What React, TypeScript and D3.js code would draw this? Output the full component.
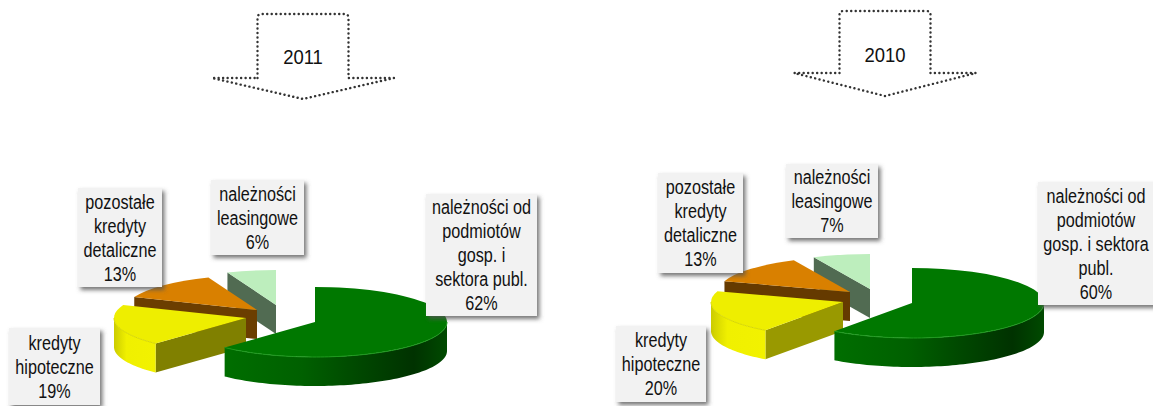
import React from 'react';
import * as d3 from 'd3';

const years = ['2011', '2010'];
const values2011 = [62, 19, 13, 6];
const values2010 = [60, 20, 13, 7];
const labels2011 = [
  ['należności od', 'podmiotów', 'gosp. i', 'sektora publ.', '62%'],
  ['kredyty', 'hipoteczne', '19%'],
  ['pozostałe', 'kredyty', 'detaliczne', '13%'],
  ['należności', 'leasingowe', '6%'],
];
const labels2010 = [
  ['należności od', 'podmiotów', 'gosp. i sektora', 'publ.', '60%'],
  ['kredyty', 'hipoteczne', '20%'],
  ['pozostałe', 'kredyty', 'detaliczne', '13%'],
  ['należności', 'leasingowe', '7%'],
];

const FONT = '"Liberation Sans", Arial, sans-serif';
const NARROW = 0.81; // the reference face is a narrow grotesque, squeeze Liberation Sans to match
const rx = 132;
const ry = 35;
const depth = 29;

const topColors = ['#007800', '#eeee00', '#d98000', '#bdeebd'];
const wallFills = ['url(#wallGreen)', 'url(#wallYellow)', '#6b3e00', '#516b52'];
const edgeColors = ['#1f9a1f', '#d8d800', '#6b3e00', '#516b52'];

// slice apexes (exploded) and label boxes, by slice index
const layout2011 = {
  arrow: { cx: 303, top: 14, shoulder: 78, tip: 99, textY: 64 },
  apex: [[315, 322], [246, 318], [257, 310], [276, 305]],
  boxes: [[426, 194, 111, 122], [9, 328, 91, 77], [78, 188, 84, 99], [211, 180, 93, 75]],
  cut: ['#005000', '#808000', '#6b3e00', '#516b52'],
};
const layout2010 = {
  arrow: { cx: 885, top: 11, shoulder: 73, tip: 96, textY: 62 },
  apex: [[912, 303], [843, 302], [850, 292], [870, 289]],
  boxes: [[1038, 182, 118, 123], [616, 326, 90, 76], [658, 173, 85, 100], [786, 164, 92, 74]],
  cut: ['#005000', '#999900', '#653a00', '#516b52'],
};

const pie = d3.pie<number>().sort(null).startAngle(0).endAngle(2 * Math.PI);
const arc = d3.arc<d3.PieArcDatum<number>>().innerRadius(0).outerRadius(rx);
const line = d3.line();

// d3 angle: 0 at 12 o'clock, clockwise
const project = (a: number, cx: number, cy: number): [number, number] => [
  cx + rx * Math.sin(a),
  cy - ry * Math.cos(a),
];

function wallPath(start: number, end: number, cx: number, cy: number) {
  const a0 = Math.max(start, Math.PI / 2);
  const a1 = Math.min(end, (3 * Math.PI) / 2);
  if (a1 <= a0) return null;
  const angles = d3.range(a0, a1, 0.03).concat(a1);
  const upper = angles.map((a) => project(a, cx, cy));
  const lower = upper.map(([x, y]) => [x, y + depth] as [number, number]).reverse();
  return { wall: line([...upper, ...lower]) + 'Z', edge: line(upper) };
}

function Pie3D({ values, apex, cut }: { values: number[]; apex: number[][]; cut: string[] }) {
  const slices = pie(values);
  // back slices first, the big green one last
  const order = d3.range(slices.length).reverse();
  return (
    <g>
      {order.map((i) => {
        const s = slices[i];
        const [cx, cy] = apex[i];
        const w = wallPath(s.startAngle, s.endAngle, cx, cy);
        const [ox, oy] = project(s.startAngle, cx, cy);
        return (
          <g key={i}>
            {i > 0 && (
              <path
                d={line([[cx, cy], [ox, oy], [ox, oy + depth], [cx, cy + depth]]) + 'Z'}
                fill={cut[i]}
              />
            )}
            {w && <path d={w.wall} fill={wallFills[i]} />}
            <path
              d={arc(s) as string}
              transform={`translate(${cx},${cy}) scale(1,${ry / rx})`}
              fill={topColors[i]}
            />
            {w && <path d={w.edge as string} fill="none" stroke={edgeColors[i]} strokeWidth={1} />}
          </g>
        );
      })}
    </g>
  );
}

function Arrow({ year, a }: { year: string; a: typeof layout2011.arrow }) {
  const p = d3.path();
  const hw = 45.5;
  const wing = 91;
  p.moveTo(a.cx - hw, a.shoulder);
  p.lineTo(a.cx - hw, a.top + 4);
  p.quadraticCurveTo(a.cx - hw, a.top, a.cx - hw + 4, a.top);
  p.lineTo(a.cx + hw - 4, a.top);
  p.quadraticCurveTo(a.cx + hw, a.top, a.cx + hw, a.top + 4);
  p.lineTo(a.cx + hw, a.shoulder);
  p.lineTo(a.cx + wing, a.shoulder);
  p.lineTo(a.cx, a.tip);
  p.lineTo(a.cx - wing, a.shoulder);
  p.closePath();
  return (
    <g>
      <path
        d={p.toString()}
        fill="none"
        stroke="#333"
        strokeWidth={2.4}
        strokeLinecap="round"
        strokeDasharray="0.1 4.4"
      />
      <text
        transform={`translate(${a.cx},${a.textY}) scale(0.88,1)`}
        textAnchor="middle"
        fontFamily={FONT}
        fontSize={21}
        fill="#111"
      >
        {year}
      </text>
    </g>
  );
}

function Labels({ lines, boxes }: { lines: string[][]; boxes: number[][] }) {
  return (
    <g>
      {lines.map((rows, i) => {
        const [x, y, w, h] = boxes[i];
        const step = 24;
        const mid = Math.min(x + w / 2, 1153 - 57);
        const first = y + h / 2 - ((rows.length - 1) * step) / 2 + 7.5;
        return (
          <g key={i}>
            <rect x={x} y={y} width={w} height={h} fill="#f2f2f2" filter="url(#boxShadow)" />
            <text
              transform={`translate(${mid},0) scale(${NARROW},1)`}
              textAnchor="middle"
              fontFamily={FONT}
              fontSize={20}
              fill="#111"
            >
              {rows.map((r, j) => (
                <tspan key={j} x={0} y={first + j * step}>
                  {r}
                </tspan>
              ))}
            </text>
          </g>
        );
      })}
    </g>
  );
}

export default function App() {
  return (
    <svg
      width={1153}
      height={406}
      style={{ position: 'absolute', left: 0, top: 0, display: 'block', background: '#fff' }}
    >
      <defs>
        <linearGradient id="wallGreen" x1="0" x2="1" y1="0" y2="0">
          <stop offset="0" stopColor="#006e00" />
          <stop offset="0.35" stopColor="#006000" />
          <stop offset="0.6" stopColor="#004800" />
          <stop offset="0.85" stopColor="#003200" />
          <stop offset="1" stopColor="#004a00" />
        </linearGradient>
        <linearGradient id="wallYellow" x1="0" x2="1" y1="0" y2="0">
          <stop offset="0" stopColor="#cccc00" />
          <stop offset="0.3" stopColor="#f0f000" />
          <stop offset="1" stopColor="#f2f200" />
        </linearGradient>
        <filter id="boxShadow" x="-20%" y="-20%" width="150%" height="150%">
          <feDropShadow dx={2.5} dy={3} stdDeviation={2} floodColor="#555" floodOpacity={0.8} />
        </filter>
      </defs>
      <Arrow year={years[0]} a={layout2011.arrow} />
      <Arrow year={years[1]} a={layout2010.arrow} />
      <Pie3D values={values2011} apex={layout2011.apex} cut={layout2011.cut} />
      <Pie3D values={values2010} apex={layout2010.apex} cut={layout2010.cut} />
      <Labels lines={labels2011} boxes={layout2011.boxes} />
      <Labels lines={labels2010} boxes={layout2010.boxes} />
    </svg>
  );
}
